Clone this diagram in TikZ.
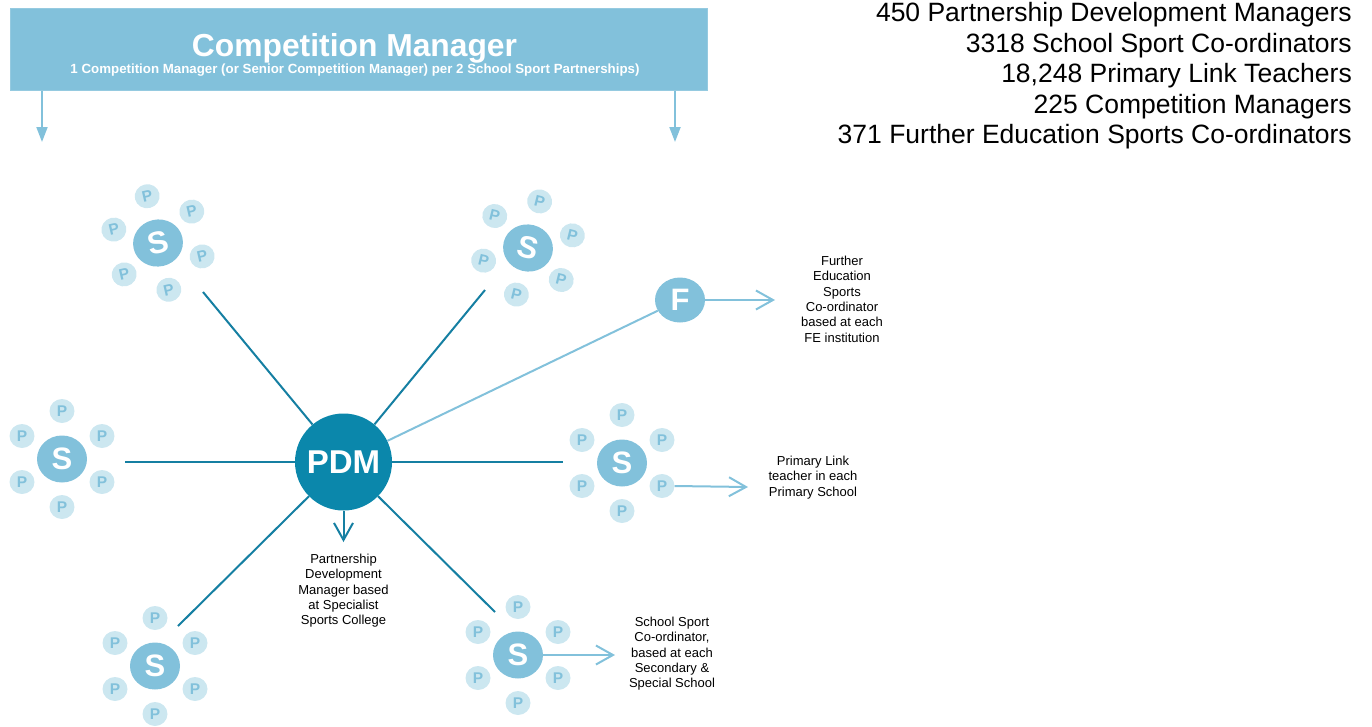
\documentclass[tikz,border=0pt]{standalone}
\usepackage{fontspec}
\setmainfont{Liberation Sans}
\usetikzlibrary{arrows.meta,shapes.geometric}
\definecolor{cmblue}{HTML}{82C1DB}
\definecolor{plight}{HTML}{CCE7F0}
\definecolor{pdmteal}{HTML}{0B87AB}
\definecolor{spoketeal}{HTML}{157FA2}
\newcommand\pcluster[4]{%
  \begin{scope}[shift={(#2,#3)},rotate=#4,transform shape]
    \node[snode] (#1) at (0,0) {S};
    \node[pnode] (#1pt) at (0,-48) {P};
    \node[pnode] (#1pur) at (40,-23) {P};
    \node[pnode] (#1pul) at (-40,-23) {P};
    \node[pnode] (#1pll) at (-40,23) {P};
    \node[pnode] (#1plr) at (40,23) {P};
    \node[pnode] (#1pb) at (0,48) {P};
  \end{scope}}
\begin{document}
\begin{tikzpicture}[x=1pt,y=-1pt,
  pnode/.style={ellipse,fill=plight,minimum width=25pt,minimum height=24pt,inner sep=0pt,text=cmblue,font=\fontsize{15.5}{15.5}\selectfont\bfseries},
  snode/.style={ellipse,fill=cmblue,minimum width=50pt,minimum height=47pt,inner sep=0pt,text=white,font=\fontsize{31}{31}\selectfont\bfseries},
  spoke/.style={draw=spoketeal,line width=2pt},
  openarrow/.style={line width=2pt,-{Straight Barb[length=17pt,width=19pt]}},
  toparrow/.style={draw=cmblue,line width=2pt,-{Triangle[length=15pt,width=11pt]}},
  label/.style={align=center,anchor=north,inner sep=0pt,font=\fontsize{13}{15.3}\selectfont},
  count/.style={anchor=base east,inner sep=0pt,font=\fontsize{26.5}{30}\selectfont}
]
\useasboundingbox (0,0) rectangle (1372,726);
% Competition Manager box
\node[fill=cmblue,draw=cmblue!85!white,line width=1pt,minimum width=697pt,minimum height=82pt,inner sep=0pt] (cmbox) at (358.5,49) {};
\node[anchor=base,inner sep=0pt,text=white,font=\fontsize{31.8}{32}\selectfont\bfseries] (cmtitle) at (354.5,56) {Competition Manager};
\node[anchor=base,inner sep=0pt,text=white,font=\fontsize{13.3}{13}\selectfont\bfseries] (cmsub) at (355,73) {1 Competition Manager (or Senior Competition Manager) per 2 School Sport Partnerships)};
\coordinate (a1) at (42,142);
\coordinate (a2) at (675,142);
\draw[toparrow] (cmbox.south -| a1) -- (a1);
\draw[toparrow] (cmbox.south -| a2) -- (a2);
% counts
\node[count] (r1) at (1352,21.5) {450 Partnership Development Managers};
\node[count] (r2) at (1352,52) {3318 School Sport Co-ordinators};
\node[count] (r3) at (1352,82.5) {18,248 Primary Link Teachers};
\node[count] (r4) at (1352,113) {225 Competition Managers};
\node[count] (r5) at (1352,143.5) {371 Further Education Sports Co-ordinators};
% clusters
\pcluster{sa}{158}{243}{13}
\pcluster{sb}{528}{248}{-14}
\pcluster{sc}{62}{459}{0}
\pcluster{sd}{622}{463}{0}
\pcluster{se}{155}{666}{0}
\pcluster{sf}{518}{655}{0}
% PDM
\node[circle,fill=pdmteal,minimum size=97pt,inner sep=0pt,text=white,font=\fontsize{33}{33}\selectfont\bfseries] (pdm) at (343.5,462) {PDM};
% F
\node[ellipse,fill=cmblue,minimum width=50pt,minimum height=45pt,inner sep=0pt,text=white,font=\fontsize{31}{31}\selectfont\bfseries] (f) at (680,300) {F};
% spokes
\coordinate (ea) at (203,292);
\coordinate (eb) at (485,290);
\coordinate (ec) at (125,462);
\coordinate (ed) at (563,462);
\coordinate (ee) at (178,626);
\coordinate (ef) at (495,612);
\foreach \e in {ea,eb,ec,ed,ee,ef} \draw[spoke] (pdm) -- (\e);
\draw[draw=cmblue,line width=2pt] (pdm) -- (f);
% arrows
\coordinate (tpdm) at (343.5,542);
\coordinate (tf) at (775,300);
\coordinate (td) at (748,487);
\coordinate (tfs) at (615,655);
\draw[openarrow,draw=spoketeal] (pdm) -- (tpdm);
\draw[openarrow,draw=cmblue] (f) -- (tf);
\draw[openarrow,draw=cmblue] (sdplr.east) -- (td);
\draw[openarrow,draw=cmblue] (sf.east) -- (tfs);
% labels
\node[label] (lpdm) at (343.5,554) {Partnership\\Development\\Manager based\\at Specialist\\Sports College};
\node[label] (lf) at (842,256) {Further\\Education\\Sports\\Co-ordinator\\based at each\\FE institution};
\node[label] (ld) at (813,456) {Primary Link\\teacher in each\\Primary School};
\node[label] (lsf) at (672,617) {School Sport\\Co-ordinator,\\based at each\\Secondary \&\\Special School};
\end{tikzpicture}
\end{document}
